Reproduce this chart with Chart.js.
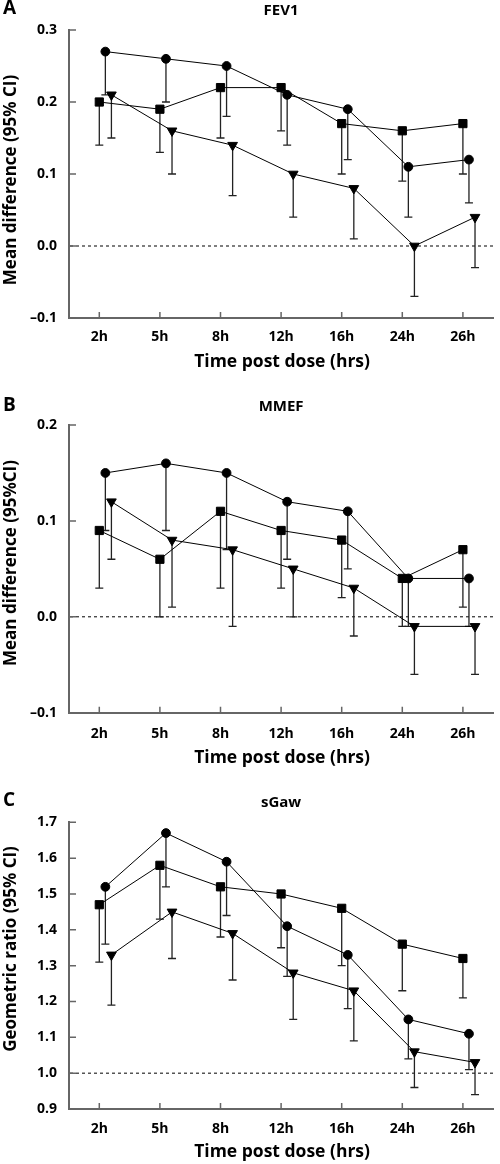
<!DOCTYPE html>
<html><head><meta charset="utf-8">
<script src="https://cdn.jsdelivr.net/npm/chart.js@4"></script>
<style>
html,body{margin:0;padding:0;background:#fff;}
#wrap{position:relative;width:500px;height:1164px;overflow:hidden;}
.panel{position:absolute;left:0;width:500px;}
canvas{display:block;}
</style></head><body>
<div id="wrap">
<div class="panel" style="top:0px;height:388px"><canvas id="cA" width="500" height="388"></canvas></div>
<div class="panel" style="top:388px;height:387px"><canvas id="cB" width="500" height="387"></canvas></div>
<div class="panel" style="top:775px;height:389px"><canvas id="cC" width="500" height="389"></canvas></div>
</div>
<script>
// ---------- DATA ----------
const timeLabels = ['2h','5h','8h','12h','16h','24h','26h'];

// Panel A: FEV1 (mean difference, lower 95% CI)
const fevSquare      = [0.20, 0.19, 0.22, 0.22, 0.17, 0.16, 0.17];
const fevSquareLow   = [0.14, 0.13, 0.15, 0.16, 0.10, 0.09, 0.10];
const fevCircle      = [0.27, 0.26, 0.25, 0.21, 0.19, 0.11, 0.12];
const fevCircleLow   = [0.21, 0.20, 0.18, 0.14, 0.12, 0.04, 0.06];
const fevTriangle    = [0.21, 0.16, 0.14, 0.10, 0.08, 0.00, 0.04];
const fevTriangleLow = [0.15, 0.10, 0.07, 0.04, 0.01, -0.07, -0.03];
const fevTicks       = [-0.1, 0.0, 0.1, 0.2, 0.3];
const fevRef         = 0.0;

// Panel B: MMEF
const mmefSquare      = [0.09, 0.06, 0.11, 0.09, 0.08, 0.04, 0.07];
const mmefSquareLow   = [0.03, 0.00, 0.03, 0.03, 0.02, -0.01, 0.01];
const mmefCircle      = [0.15, 0.16, 0.15, 0.12, 0.11, 0.04, 0.04];
const mmefCircleLow   = [0.09, 0.09, 0.07, 0.06, 0.05, -0.01, -0.01];
const mmefTriangle    = [0.12, 0.08, 0.07, 0.05, 0.03, -0.01, -0.01];
const mmefTriangleLow = [0.06, 0.01, -0.01, 0.00, -0.02, -0.06, -0.06];
const mmefTicks       = [-0.1, 0.0, 0.1, 0.2];
const mmefRef         = 0.0;

// Panel C: sGaw (geometric ratio)
const sgawSquare      = [1.47, 1.58, 1.52, 1.50, 1.46, 1.36, 1.32];
const sgawSquareLow   = [1.31, 1.43, 1.38, 1.35, 1.30, 1.23, 1.21];
const sgawCircle      = [1.52, 1.67, 1.59, 1.41, 1.33, 1.15, 1.11];
const sgawCircleLow   = [1.36, 1.52, 1.44, 1.27, 1.18, 1.04, 1.01];
const sgawTriangle    = [1.33, 1.45, 1.39, 1.28, 1.23, 1.06, 1.03];
const sgawTriangleLow = [1.19, 1.32, 1.26, 1.15, 1.09, 0.96, 0.94];
const sgawTicks       = [0.9, 1.0, 1.1, 1.2, 1.3, 1.4, 1.5, 1.6, 1.7];
const sgawRef         = 1.0;

// small horizontal dodge of each series within a time point (category units)
const dodgeSquare = 0.0, dodgeCircle = 0.1, dodgeTriangle = 0.2;

// ---------- PLUGINS ----------
const FONT = '"Open Sans", Lato, sans-serif';

const decorPlugin = {
  id: 'decor',
  beforeDatasetsDraw(chart, args, o) {
    const {ctx, chartArea: a, scales: {x, y}} = chart;
    ctx.save();
    // dashed reference line
    const yr = y.getPixelForValue(o.ref);
    ctx.setLineDash([3, 3]);
    ctx.strokeStyle = '#000'; ctx.lineWidth = 1;
    ctx.beginPath(); ctx.moveTo(a.left + 1, yr); ctx.lineTo(a.right, yr); ctx.stroke();
    ctx.setLineDash([]);
    // inward tick marks
    ctx.strokeStyle = '#666'; ctx.lineWidth = 1.5;
    ctx.beginPath();
    y.ticks.forEach(t => { const p = y.getPixelForValue(t.value); ctx.moveTo(a.left, p); ctx.lineTo(a.left + 7, p); });
    x.ticks.forEach(t => { const p = x.getPixelForValue(t.value); ctx.moveTo(p, a.bottom); ctx.lineTo(p, a.bottom - 6); });
    ctx.stroke();
    // error bars (lower CI with cap)
    ctx.strokeStyle = '#222'; ctx.lineWidth = 1.3;
    chart.data.datasets.forEach((ds, di) => {
      const meta = chart.getDatasetMeta(di);
      meta.data.forEach((pt, i) => {
        const pl = y.getPixelForValue(ds.lower[i]);
        ctx.beginPath();
        ctx.moveTo(pt.x, pt.y); ctx.lineTo(pt.x, pl);
        ctx.moveTo(pt.x - 4, pl); ctx.lineTo(pt.x + 4, pl);
        ctx.stroke();
      });
    });
    ctx.restore();
  },
  afterDraw(chart, args, o) {
    const {ctx, chartArea: a} = chart;
    ctx.save();
    ctx.fillStyle = '#000';
    ctx.textBaseline = 'middle';
    // panel letter
    ctx.font = 'bold 19px ' + FONT; ctx.textAlign = 'left';
    ctx.fillText(o.letter, 3, o.letterY);
    // panel title
    ctx.font = 'bold 15px ' + FONT; ctx.textAlign = 'center';
    ctx.fillText(o.title, (a.left + a.right) / 2, o.titleY);
    // x title
    ctx.font = 'bold 17.5px ' + FONT;
    ctx.fillText(o.xTitle, (a.left + a.right) / 2 + 1, o.xTitleY);
    // y title
    ctx.font = 'bold 17px ' + FONT;
    ctx.translate(11, o.yTitleY); ctx.rotate(-Math.PI / 2);
    ctx.fillText(o.yTitle, 0, 0);
    ctx.restore();
  }
};

function fmt(v) {
  const s = Math.abs(v) < 1e-9 ? '0.0' : v.toFixed(1);
  return s.replace('-', '\u2013');
}

function series(vals, lows, dodge, style, radius, rot) {
  return {
    data: vals.map((v, i) => ({x: i + dodge, y: v})),
    lower: lows,
    borderColor: '#000', backgroundColor: '#000', borderWidth: 1,
    pointStyle: style, pointRadius: radius, pointRotation: rot || 0,
    pointBorderColor: '#000', pointBackgroundColor: '#000', pointBorderWidth: 1,
    tension: 0, clip: false
  };
}

function makeChart(id, p) {
  new Chart(document.getElementById(id), {
    type: 'line',
    data: {
      datasets: [
        series(p.sq, p.sqLow, dodgeSquare, 'rect', 5.8),
        series(p.ci, p.ciLow, dodgeCircle, 'circle', 4.4),
        series(p.tr, p.trLow, dodgeTriangle, 'triangle', 5.6, 180)
      ]
    },
    options: {
      responsive: false, animation: false,
      layout: {padding: {top: p.padTop, left: 0, right: 0, bottom: 0}},
      plugins: {
        legend: {display: false}, tooltip: {enabled: false},
        decor: {ref: p.ref, letter: p.letter, letterY: p.letterY, title: p.title, titleY: p.titleY,
                xTitle: 'Time post dose (hrs)', xTitleY: p.xTitleY, yTitle: p.yTitle, yTitleY: p.yTitleY}
      },
      scales: {
        x: {
          type: 'linear', min: -0.5, max: 6.5,
          grid: {display: false, drawTicks: false},
          border: {display: true, color: '#666', width: 2},
          afterBuildTicks: s => { s.ticks = timeLabels.map((_, i) => ({value: i})); },
          afterFit: s => { s.height = p.xH; },
          ticks: {callback: v => timeLabels[v], color: '#000', padding: p.xPad, maxRotation: 0,
                  font: {family: FONT, size: 14, weight: 'bold'}}
        },
        y: {
          type: 'linear', min: p.ticks[0], max: p.ticks[p.ticks.length - 1],
          grid: {display: false, drawTicks: false},
          border: {display: true, color: '#666', width: 2},
          afterBuildTicks: s => { s.ticks = p.ticks.map(v => ({value: v})); },
          afterFit: s => { s.width = 69; },
          ticks: {callback: v => fmt(v), color: '#000', padding: 12,
                  font: {family: FONT, size: 14, weight: 'bold'}}
        }
      }
    },
    plugins: [decorPlugin]
  });
}

makeChart('cA', {sq: fevSquare, sqLow: fevSquareLow, ci: fevCircle, ciLow: fevCircleLow,
  tr: fevTriangle, trLow: fevTriangleLow, ticks: fevTicks, ref: fevRef,
  letter: 'A', letterY: 9, title: 'FEV1', titleY: 11, yTitle: 'Mean difference (95% CI)', yTitleY: 180,
  xTitleY: 362, padTop: 30, xH: 70, xPad: 10.6});

makeChart('cB', {sq: mmefSquare, sqLow: mmefSquareLow, ci: mmefCircle, ciLow: mmefCircleLow,
  tr: mmefTriangle, trLow: mmefTriangleLow, ticks: mmefTicks, ref: mmefRef,
  letter: 'B', letterY: 17.5, title: 'MMEF', titleY: 18.7, yTitle: 'Mean difference (95%CI)', yTitleY: 175,
  xTitleY: 370, padTop: 37, xH: 62.3, xPad: 12.6});

makeChart('cC', {sq: sgawSquare, sqLow: sgawSquareLow, ci: sgawCircle, ciLow: sgawCircleLow,
  tr: sgawTriangle, trLow: sgawTriangleLow, ticks: sgawTicks, ref: sgawRef,
  letter: 'C', letterY: 25.3, title: 'sGaw', titleY: 28, yTitle: 'Geometric ratio (95% CI)', yTitleY: 174,
  xTitleY: 377, padTop: 47.3, xH: 55, xPad: 11.6});
</script>
</body></html>
